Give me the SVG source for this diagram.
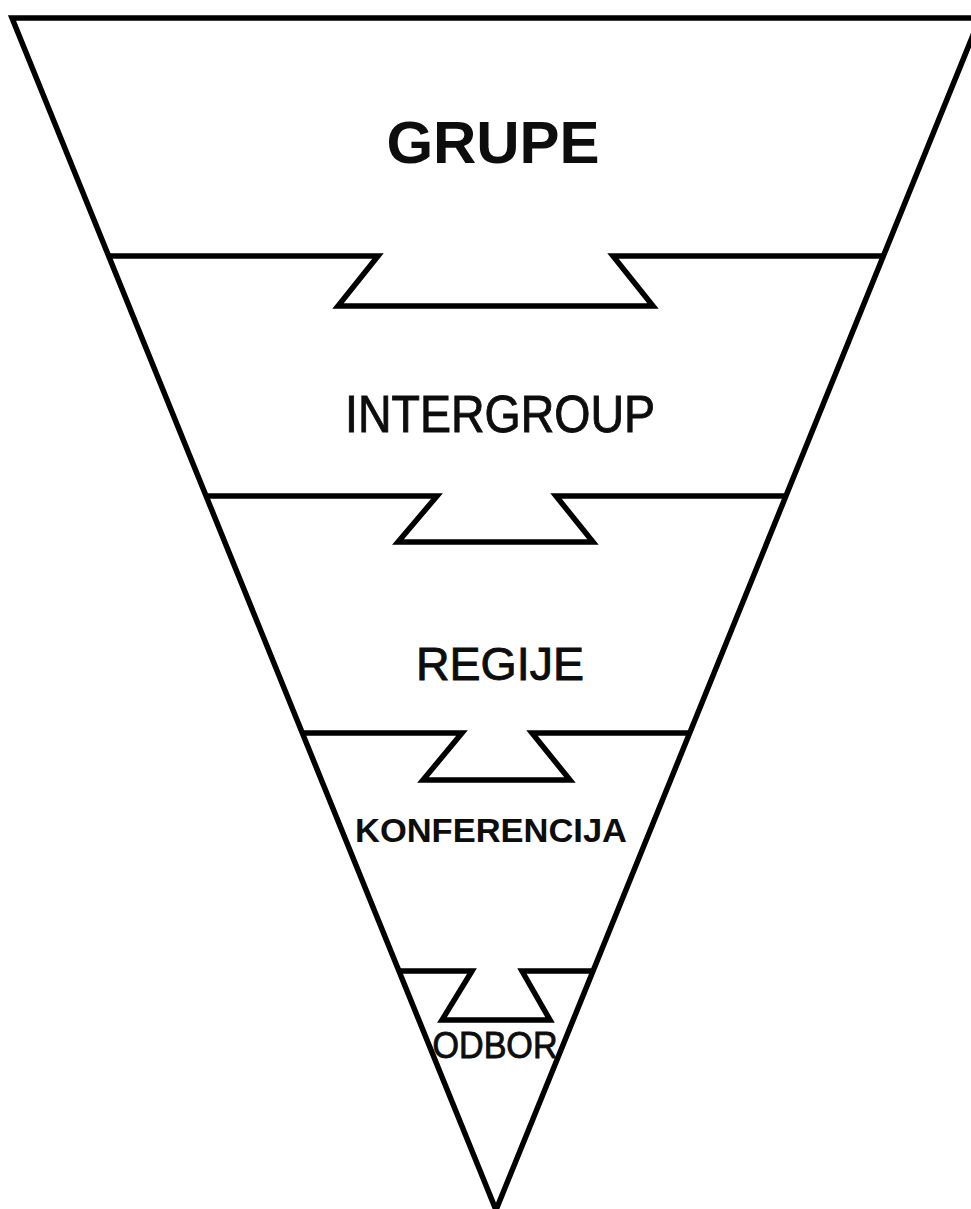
<svg xmlns="http://www.w3.org/2000/svg" width="971" height="1209" viewBox="0 0 971 1209">
<style>
.ln{fill:none;stroke:#000;stroke-width:5.5;stroke-linejoin:miter;stroke-linecap:butt}
.t{font-family:"Liberation Sans",Arial,sans-serif;fill:#0d0d0d;text-anchor:middle}
.b{font-weight:bold}
.h{stroke:#0d0d0d;stroke-width:0.9}
</style>
<rect width="971" height="1209" fill="#fff"/>
<g id="outline">
<path class="ln" d="M990,18 L12,18 L496,1210 L980,18"/>
</g>
<g id="connectors">
<path class="ln" d="M110,256 L378,256 L338,306 L653,306 L613,256 L882,256"/>
<path class="ln" d="M207,496 L437,496 L398,542 L593,542 L556,496 L786,496"/>
<path class="ln" d="M302,733 L462,733 L423,780 L570,780 L532,733 L690,733"/>
<path class="ln" d="M399,971 L472,971 L442,1020 L550,1020 L522,971 L593,971"/>
</g>
<g id="grupe"><text class="t b" x="493" y="163" font-size="60" textLength="213" lengthAdjust="spacing">GRUPE</text></g>
<g id="intergroup"><text class="t h" x="500" y="432" font-size="51" textLength="310" lengthAdjust="spacingAndGlyphs">INTERGROUP</text></g>
<g id="regije"><text class="t h" x="500" y="680" font-size="46.5">REGIJE</text></g>
<g id="konferencija"><text class="t b" x="491" y="842" font-size="32.6" textLength="272" lengthAdjust="spacingAndGlyphs">KONFERENCIJA</text></g>
<g id="odbor"><text class="t h" x="495" y="1058" font-size="37" textLength="125" lengthAdjust="spacingAndGlyphs" stroke-width="0.5">ODBOR</text></g>
</svg>
